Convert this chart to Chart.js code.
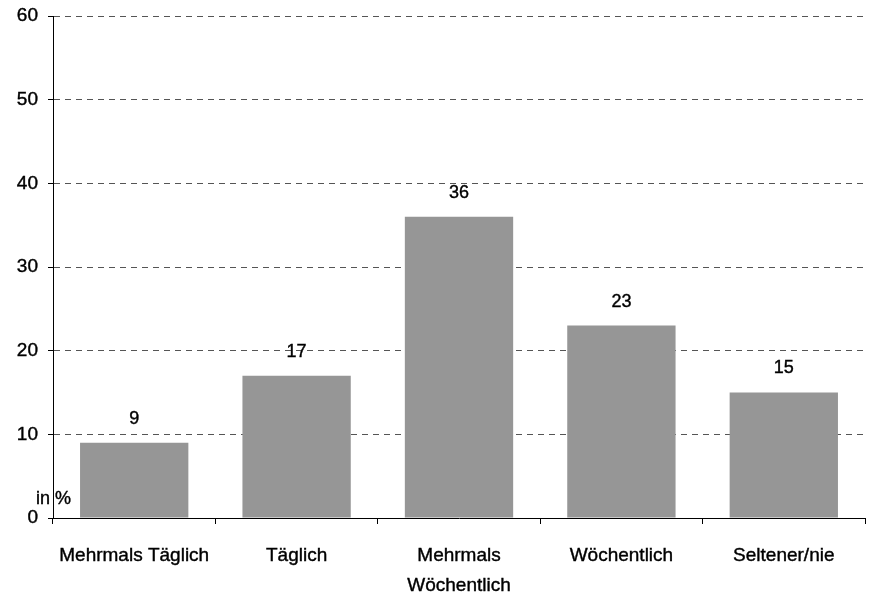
<!DOCTYPE html>
<html>
<head>
<meta charset="utf-8">
<script src="https://cdn.jsdelivr.net/npm/chart.js"></script>
<style>
  html, body { margin: 0; padding: 0; background: #fff; }
  #wrap { width: 870px; height: 597px; }
</style>
</head>
<body>
<div id="wrap"><canvas id="barChart"></canvas></div>
<script>
const categories = ["Mehrmals Täglich", "Täglich", ["Mehrmals", "Wöchentlich"], "Wöchentlich", "Seltener/nie"];
const shares = [9, 17, 36, 23, 15];
const yTicks = [0, 10, 20, 30, 40, 50, 60];

const FONT = "'Liberation Sans', Arial, sans-serif";

// value labels above bars + "in %" note
const labelPlugin = {
  id: "labels",
  afterDatasetsDraw(chart) {
    const ctx = chart.ctx;
    const meta = chart.getDatasetMeta(0);
    ctx.save();
    ctx.font = "18px " + FONT;
    ctx.fillStyle = "#000";
    ctx.strokeStyle = "#000";
    ctx.lineWidth = 0.4;
    ctx.textAlign = "center";
    ctx.textBaseline = "middle";
    meta.data.forEach((bar, i) => {
      ctx.fillText(String(shares[i]), bar.x, bar.y - 24);
      ctx.strokeText(String(shares[i]), bar.x, bar.y - 24);
    });
    const y0 = chart.scales.y.getPixelForValue(0);
    ctx.textAlign = "left";
    ctx.fillText("in %", 36, y0 - 19);
    ctx.strokeText("in %", 36, y0 - 19);
    ctx.restore();
  },
};

new Chart(document.getElementById("barChart"), {
  type: "bar",
  data: {
    labels: categories,
    datasets: [
      {
        data: shares,
        backgroundColor: "#969696",
        borderWidth: 0,
        barPercentage: 0.667,
        categoryPercentage: 1,
      },
    ],
  },
  plugins: [labelPlugin],
  options: {
    responsive: true,
    maintainAspectRatio: false,
    animation: false,
    layout: { padding: { top: 16, right: 5, left: 0, bottom: 0 } },
    plugins: {
      legend: { display: false },
      tooltip: { enabled: false },
    },
    scales: {
      y: {
        min: 0,
        max: 60,
        afterFit(scale) {
          scale.width = 53;
          scale.paddingTop = 0;
          scale.paddingBottom = 0;
        },
        afterBuildTicks(scale) { scale.ticks = yTicks.map(v => ({ value: v })); },
        border: { display: true, color: "#000", width: 1, dash: [6, 5] },
        grid: {
          color: "#555",
          lineWidth: 1,
          tickLength: 5,
          tickColor: "#000",
          tickBorderDash: [],
        },
        ticks: {
          color: "#000",
          font: { family: FONT, size: 19 },
          textStrokeColor: "#000",
          textStrokeWidth: 0.4,
          padding: 10,
        },
      },
      x: {
        afterFit(scale) { scale.height = 79; },
        border: { display: true, color: "#000", width: 1 },
        grid: {
          offset: true,
          drawOnChartArea: false,
          tickLength: 6,
          tickColor: "#000",
        },
        ticks: {
          color: "#000",
          font: { family: FONT, size: 19, lineHeight: 1.62 },
          textStrokeColor: "#000",
          textStrokeWidth: 0.4,
          padding: 16,
          maxRotation: 0,
          autoSkip: false,
        },
      },
    },
  },
});
</script>
</body>
</html>
